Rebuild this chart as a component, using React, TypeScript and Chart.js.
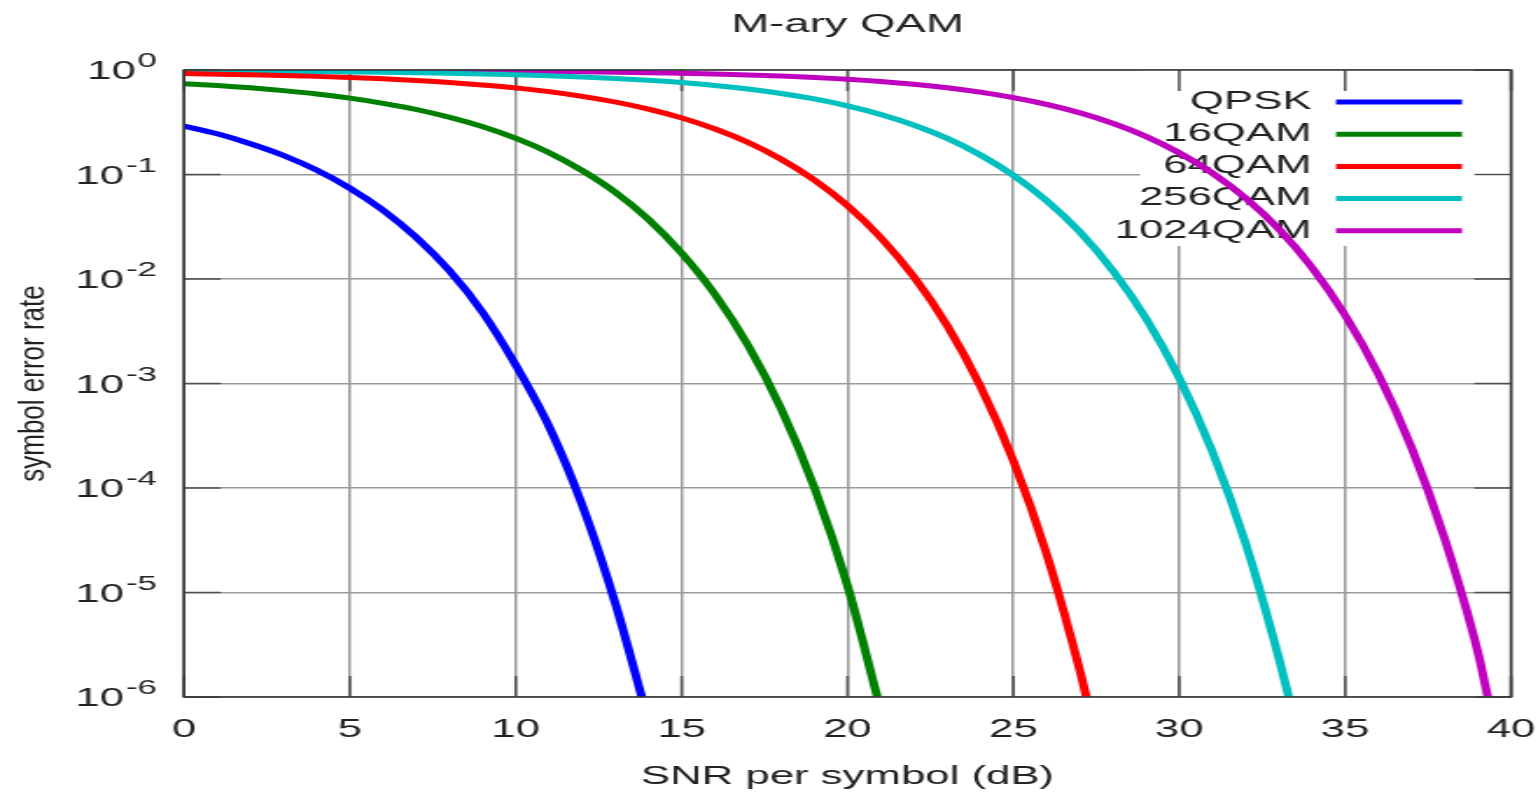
import React, { useEffect, useRef } from 'react';
import { Chart, registerables } from 'chart.js';

Chart.register(...registerables);

// ---- text ----
const TITLE = 'M-ary QAM';
const X_TITLE = 'SNR per symbol (dB)';
const Y_TITLE = 'symbol error rate';

// ---- series ----
const seriesNames = ['QPSK', '16QAM', '64QAM', '256QAM', '1024QAM'];
const seriesColors = ['#0000ff', '#008000', '#ff0000', '#00bfbf', '#bf00bf'];

const qpskSnr = [0, 1, 2, 3, 4, 5, 6, 7, 8, 9, 10, 11, 12, 13, 13.8];
const qpskSer = [0.29, 0.245, 0.197, 0.152, 0.11, 0.074, 0.0455, 0.025, 0.012, 0.0048, 0.0015, 0.00039, 0.000069, 0.0000079, 0.000001];

const qam16Snr = [0, 1, 2, 3, 4, 5, 6, 7, 8, 9, 10, 11, 12, 13, 14, 15, 16, 17, 18, 19, 20, 20.9];
const qam16Ser = [0.74, 0.71, 0.675, 0.635, 0.59, 0.538, 0.48, 0.419, 0.353, 0.287, 0.222, 0.162, 0.109, 0.0675, 0.0372, 0.0177, 0.00716, 0.00232, 0.000573, 0.000101, 0.0000116, 0.000001];

const qam64Snr = [0, 1, 2, 3, 4, 5, 6, 7, 8, 9, 10, 11, 12, 13, 14, 15, 16, 17, 18, 19, 20, 21, 22, 23, 24, 25, 26, 27, 27.2];
const qam64Ser = [0.924, 0.913, 0.901, 0.887, 0.869, 0.848, 0.824, 0.795, 0.761, 0.72, 0.674, 0.621, 0.56, 0.494, 0.422, 0.348, 0.273, 0.203, 0.14, 0.0886, 0.0503, 0.0249, 0.0105, 0.0036, 0.00095, 0.000182, 0.0000234, 0.00000181, 0.000001];

const qam256Snr = [0, 1, 2, 3, 4, 5, 6, 7, 8, 9, 10, 11, 12, 13, 14, 15, 16, 17, 18, 19, 20, 21, 22, 23, 24, 25, 26, 27, 28, 29, 30, 31, 32, 33, 33.3];
const qam256Ser = [0.979, 0.977, 0.973, 0.969, 0.964, 0.958, 0.95, 0.941, 0.93, 0.917, 0.901, 0.882, 0.859, 0.831, 0.798, 0.758, 0.712, 0.658, 0.596, 0.528, 0.453, 0.375, 0.297, 0.222, 0.154, 0.0983, 0.0563, 0.0283, 0.012, 0.00419, 0.00113, 0.000222, 0.0000295, 0.00000237, 0.000001];

const qam1024Snr = [0, 1, 2, 3, 4, 5, 6, 7, 8, 9, 10, 11, 12, 13, 14, 15, 16, 17, 18, 19, 20, 21, 22, 23, 24, 25, 26, 27, 28, 29, 30, 31, 32, 33, 34, 35, 36, 37, 38, 39, 39.3];
const qam1024Ser = [0.995, 0.994, 0.993, 0.992, 0.991, 0.989, 0.987, 0.984, 0.982, 0.978, 0.973, 0.968, 0.961, 0.953, 0.943, 0.931, 0.916, 0.897, 0.875, 0.848, 0.815, 0.776, 0.73, 0.676, 0.614, 0.544, 0.469, 0.389, 0.308, 0.231, 0.161, 0.103, 0.0593, 0.0301, 0.0129, 0.0045, 0.00123, 0.000245, 0.0000328, 0.0000027, 0.000001];

const seriesSnr = [qpskSnr, qam16Snr, qam64Snr, qam256Snr, qam1024Snr];
const seriesSer = [qpskSer, qam16Ser, qam64Ser, qam256Ser, qam1024Ser];

// ---- ticks ----
const xTickValues = [0, 5, 10, 15, 20, 25, 30, 35, 40];
const yTickValues = [1e-6, 1e-5, 1e-4, 1e-3, 1e-2, 1e-1, 1];
const yTickBase = '10';
const yTickExponents = ['-6', '-5', '-4', '-3', '-2', '-1', '0'];

// ---- page geometry (the reference is horizontally stretched) ----
const PAGE_W = 1538;
const PAGE_H = 792;
const CANVAS_W = 879;
const SX = PAGE_W / CANVAS_W;
const FONT = '"Liberation Sans", Arial, sans-serif';
const TEXT_COLOR = '#222222';
const TICK_LEN = 21;

const decorPlugin = {
  id: 'decor',
  beforeDatasetsDraw(chart: any) {
    const { ctx, chartArea: a, scales } = chart;
    ctx.save();
    // key background
    ctx.fillStyle = '#ffffff';
    ctx.fillRect(a.right - 212, a.top, 212, 176);
    // inward tick marks on all four sides
    ctx.strokeStyle = '#505050';
    ctx.lineWidth = 1.5;
    ctx.beginPath();
    for (const v of xTickValues) {
      const px = scales.x.getPixelForValue(v);
      ctx.moveTo(px, a.bottom);
      ctx.lineTo(px, a.bottom - TICK_LEN);
      ctx.moveTo(px, a.top);
      ctx.lineTo(px, a.top + TICK_LEN);
    }
    for (const v of yTickValues) {
      const py = scales.y.getPixelForValue(v);
      ctx.moveTo(a.left, py);
      ctx.lineTo(a.left + TICK_LEN, py);
      ctx.moveTo(a.right, py);
      ctx.lineTo(a.right - TICK_LEN, py);
    }
    ctx.stroke();
    // key entries
    ctx.font = `25px ${FONT}`;
    ctx.textAlign = 'right';
    ctx.textBaseline = 'middle';
    chart.data.datasets.forEach((ds: any, i: number) => {
      const y = a.top + 32 + i * 32.2;
      ctx.fillStyle = TEXT_COLOR;
      ctx.fillText(ds.label, a.right - 114, y);
      ctx.strokeStyle = ds.borderColor;
      ctx.lineWidth = 5;
      ctx.beginPath();
      ctx.moveTo(a.right - 100, y);
      ctx.lineTo(a.right - 28, y);
      ctx.stroke();
    });
    ctx.restore();
  },
  afterDatasetsDraw(chart: any) {
    const { ctx, chartArea: a } = chart;
    ctx.save();
    ctx.strokeStyle = '#333333';
    ctx.lineWidth = 1.5;
    ctx.strokeRect(a.left, a.top, a.right - a.left, a.bottom - a.top);
    ctx.restore();
  },
  afterDraw(chart: any) {
    const { ctx, chartArea: a, scales } = chart;
    // y tick labels: 10 with raised exponent
    ctx.save();
    ctx.fillStyle = TEXT_COLOR;
    ctx.textAlign = 'right';
    ctx.textBaseline = 'alphabetic';
    const right = a.left - 15.5;
    yTickValues.forEach((v, i) => {
      const py = scales.y.getPixelForValue(v);
      ctx.font = `20px ${FONT}`;
      const ew = ctx.measureText(yTickExponents[i]).width;
      ctx.fillText(yTickExponents[i], right, py - 3);
      ctx.font = `25px ${FONT}`;
      ctx.fillText(yTickBase, right - ew - 1, py + 9);
    });
    ctx.restore();
    // rotated y-axis title
    ctx.save();
    ctx.translate(20, (a.top + a.bottom) / 2);
    ctx.scale(1.3 / SX, 1);
    ctx.rotate(-Math.PI / 2);
    ctx.font = `26px ${FONT}`;
    ctx.fillStyle = TEXT_COLOR;
    ctx.textAlign = 'center';
    ctx.textBaseline = 'middle';
    ctx.fillText(Y_TITLE, 0, 0);
    ctx.restore();
  },
};

export default function App() {
  const canvasRef = useRef<HTMLCanvasElement | null>(null);

  useEffect(() => {
    const canvas = canvasRef.current;
    if (!canvas) return;
    const datasets = seriesNames.map((name, i) => ({
      label: name,
      data: seriesSnr[i].map((x, j) => ({ x, y: seriesSer[i][j] })),
      borderColor: seriesColors[i],
      backgroundColor: seriesColors[i],
      borderWidth: 5,
      pointRadius: 0,
      fill: false,
      cubicInterpolationMode: 'monotone' as const,
    }));

    const chart = new Chart(canvas, {
      type: 'line',
      data: { datasets },
      plugins: [decorPlugin],
      options: {
        animation: false,
        responsive: false,
        devicePixelRatio: 1,
        layout: { padding: { left: 0, right: (PAGE_W - 1511) / SX, top: 0, bottom: 0 } },
        plugins: {
          legend: { display: false },
          tooltip: { enabled: false },
          title: {
            display: true,
            fullSize: false,
            text: TITLE,
            color: TEXT_COLOR,
            font: { family: FONT, size: 26, weight: 'normal' },
            padding: { top: 9, bottom: 70 - 9 - 26 * 1.2 },
          },
        },
        scales: {
          x: {
            type: 'linear',
            min: 0,
            max: 40,
            afterBuildTicks: (scale: any) => {
              scale.ticks = xTickValues.map((v) => ({ value: v }));
            },
            afterFit: (scale: any) => {
              scale.height = PAGE_H - 697;
              scale.paddingLeft = 0;
              scale.paddingRight = 0;
            },
            grid: { color: '#999999', lineWidth: 1.5, drawTicks: false },
            border: { display: false },
            ticks: {
              color: TEXT_COLOR,
              font: { family: FONT, size: 25 },
              padding: 18,
              maxRotation: 0,
              autoSkip: false,
              callback: (v: any) => String(v),
            },
            title: {
              display: true,
              text: X_TITLE,
              color: TEXT_COLOR,
              font: { family: FONT, size: 25 },
              padding: { top: 0, bottom: 0 },
            },
          },
          y: {
            type: 'logarithmic',
            min: 1e-6,
            max: 1,
            afterBuildTicks: (scale: any) => {
              scale.ticks = yTickValues.map((v) => ({ value: v }));
            },
            afterFit: (scale: any) => {
              scale.width = 184 / SX;
              scale.paddingTop = 0;
              scale.paddingBottom = 0;
            },
            grid: { color: '#999999', lineWidth: 1.5, drawTicks: false },
            border: { display: false },
            ticks: { display: false },
            title: { display: false },
          },
        },
      },
    });
    return () => chart.destroy();
  }, []);

  return (
    <div style={{ position: 'fixed', left: 0, top: 0, width: PAGE_W, height: PAGE_H, background: '#fff' }}>
      <canvas
        ref={canvasRef}
        width={CANVAS_W}
        height={PAGE_H}
        style={{ width: PAGE_W + 'px', height: PAGE_H + 'px', display: 'block' }}
      />
    </div>
  );
}
